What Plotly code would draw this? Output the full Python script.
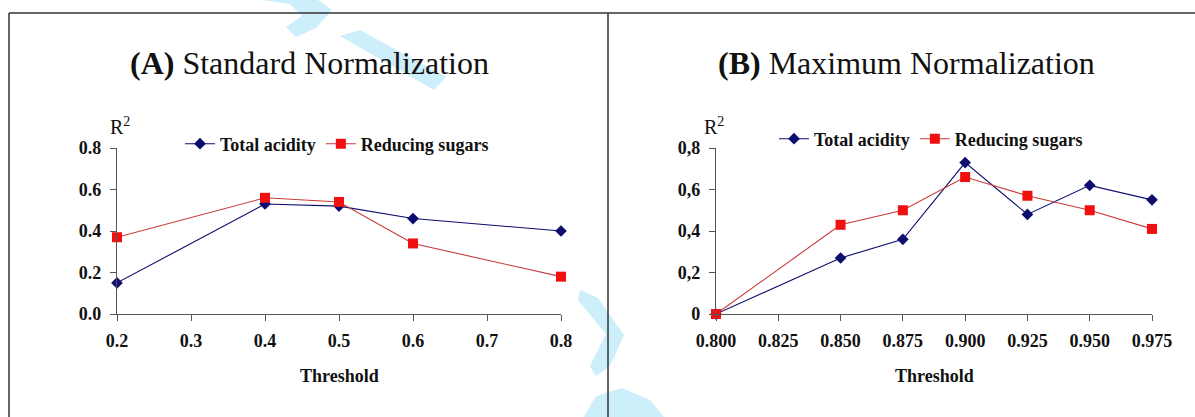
import plotly.graph_objects as go

W, H = 1195, 417

# ---------------- data ----------------
thr_std = [0.2, 0.4, 0.5, 0.6, 0.8]
ta_std = [0.15, 0.53, 0.52, 0.46, 0.40]
rs_std = [0.37, 0.56, 0.54, 0.34, 0.18]

thr_max = [0.800, 0.850, 0.875, 0.900, 0.925, 0.950, 0.975]
ta_max = [0.0, 0.27, 0.36, 0.73, 0.48, 0.62, 0.55]
rs_max = [0.0, 0.43, 0.50, 0.66, 0.57, 0.50, 0.41]

y_tickvals = [0.0, 0.2, 0.4, 0.6, 0.8]
y_ticktext_std = ["0.0", "0.2", "0.4", "0.6", "0.8"]
y_ticktext_max = ["0", "0,2", "0,4", "0,6", "0,8"]
x_tickvals_std = [0.2, 0.3, 0.4, 0.5, 0.6, 0.7, 0.8]
x_tickvals_max = [0.800, 0.825, 0.850, 0.875, 0.900, 0.925, 0.950, 0.975]
x_ticktext_max = ["0.800", "0.825", "0.850", "0.875", "0.900", "0.925", "0.950", "0.975"]

series_names = ["Total acidity", "Reducing sugars"]
titles = ["<b>(A)</b> Standard Normalization", "<b>(B)</b> Maximum Normalization"]

NAVY = "#0d0d70"
RED = "#f01010"
RED_LINE = "#c83a3a"
SERIF = "Liberation Serif"


def px(x):
    return x / W


def py(y):
    return 1 - y / H


fig = go.Figure()

fig.add_trace(go.Scatter(x=thr_std, y=ta_std, name=series_names[0], mode="lines+markers",
                         line=dict(color=NAVY, width=1.1), cliponaxis=False,
                         marker=dict(symbol="diamond", size=9, color=NAVY),
                         xaxis="x", yaxis="y", legend="legend"))
fig.add_trace(go.Scatter(x=thr_std, y=rs_std, name=series_names[1], mode="lines+markers",
                         line=dict(color=RED_LINE, width=1.1), cliponaxis=False,
                         marker=dict(symbol="square", size=10, color=RED),
                         xaxis="x", yaxis="y", legend="legend"))
fig.add_trace(go.Scatter(x=thr_max, y=ta_max, name=series_names[0], mode="lines+markers",
                         line=dict(color=NAVY, width=1.1), cliponaxis=False,
                         marker=dict(symbol="diamond", size=9, color=NAVY),
                         xaxis="x2", yaxis="y2", legend="legend2"))
fig.add_trace(go.Scatter(x=thr_max, y=rs_max, name=series_names[1], mode="lines+markers",
                         line=dict(color=RED_LINE, width=1.1), cliponaxis=False,
                         marker=dict(symbol="square", size=10, color=RED),
                         xaxis="x2", yaxis="y2", legend="legend2"))

tickfont = dict(family=SERIF, size=18, color="#111", weight="bold")
axis_common = dict(showline=True, linecolor="#555", linewidth=1.2, ticks="outside",
                   ticklen=6, tickcolor="#555", tickwidth=1.2, showgrid=False,
                   zeroline=False, tickfont=tickfont, fixedrange=True, automargin=False)

ydom = [py(314), py(148)]
legend_font = dict(family=SERIF, size=18, color="#111", weight="bold")
fig.update_layout(
    width=W, height=H, autosize=False,
    margin=dict(l=0, r=0, t=0, b=0, pad=0, autoexpand=False),
    paper_bgcolor="white", plot_bgcolor="rgba(0,0,0,0)",
    showlegend=True,
    xaxis=dict(domain=[px(117), px(561)], range=[0.2, 0.8], tickvals=x_tickvals_std,
               tickformat=".1f", anchor="y", ticklabelstandoff=4, **axis_common),
    yaxis=dict(domain=ydom, range=[0, 0.8], tickvals=y_tickvals, ticktext=y_ticktext_std,
               anchor="x", ticklabelstandoff=5, **axis_common),
    xaxis2=dict(domain=[px(716), px(1152)], range=[0.8, 0.975], tickvals=x_tickvals_max,
                ticktext=x_ticktext_max, anchor="y2", ticklabelstandoff=4, **axis_common),
    yaxis2=dict(domain=ydom, range=[0, 0.8], tickvals=y_tickvals, ticktext=y_ticktext_max,
                anchor="x2", ticklabelstandoff=5, **axis_common),
    legend=dict(orientation="h", x=px(180), xanchor="left", y=py(144), yanchor="middle",
                font=legend_font, bgcolor="rgba(0,0,0,0)", borderwidth=0, tracegroupgap=0),
    legend2=dict(orientation="h", x=px(774), xanchor="left", y=py(139), yanchor="middle",
                 font=legend_font, bgcolor="rgba(0,0,0,0)", borderwidth=0, tracegroupgap=0),
)

shapes = [
    dict(type="line", xref="paper", yref="paper", x0=px(9), y0=py(13), x1=1, y1=py(13),
         line=dict(color="#333", width=1.5)),
    dict(type="line", xref="paper", yref="paper", x0=px(9), y0=py(13), x1=px(9), y1=0,
         line=dict(color="#333", width=1.5)),
    dict(type="line", xref="paper", yref="paper", x0=px(608), y0=py(13), x1=px(608), y1=0,
         line=dict(color="#333", width=1.5)),
]
wm = "#cdeefb"


def path_from(points):
    return "M " + " L ".join(f"{px(x):.5f},{py(y):.5f}" for x, y in points) + " Z"


wm_polys = [
    [(262, 0), (318, 0), (332, 10), (316, 28), (296, 37), (286, 27), (302, 16), (290, 4)],
    [(340, 36), (360, 30), (446, 77), (434, 90)],
    [(580, 290), (598, 298), (624, 335), (610, 366), (596, 376), (590, 366), (606, 334), (578, 300)],
    [(584, 417), (596, 396), (622, 388), (650, 400), (664, 417)],
]
for poly in wm_polys:
    shapes.append(dict(type="path", xref="paper", yref="paper", path=path_from(poly),
                       fillcolor=wm, line=dict(width=0), layer="below"))
fig.update_layout(shapes=shapes)


def ann(text, x, y, size):
    return dict(text=text, x=px(x), y=py(y), showarrow=False, xref="paper", yref="paper",
                xanchor="center", yanchor="middle",
                font=dict(family=SERIF, size=size, color="#111"))


annotations = [
    ann(titles[0], 309, 63, 32),
    ann(titles[1], 907, 63, 32),
    ann("R<sup>2</sup>", 120, 126, 20),
    ann("R<sup>2</sup>", 714, 126, 20),
    ann("<b>Threshold</b>", 339, 376, 18),
    ann("<b>Threshold</b>", 934, 376, 18),
]
fig.update_layout(annotations=annotations)

fig.write_html(
    "out.html",
    post_script="document.documentElement.style.margin='0';document.body.style.margin='0';"
                "document.body.style.overflow='hidden';",
)
